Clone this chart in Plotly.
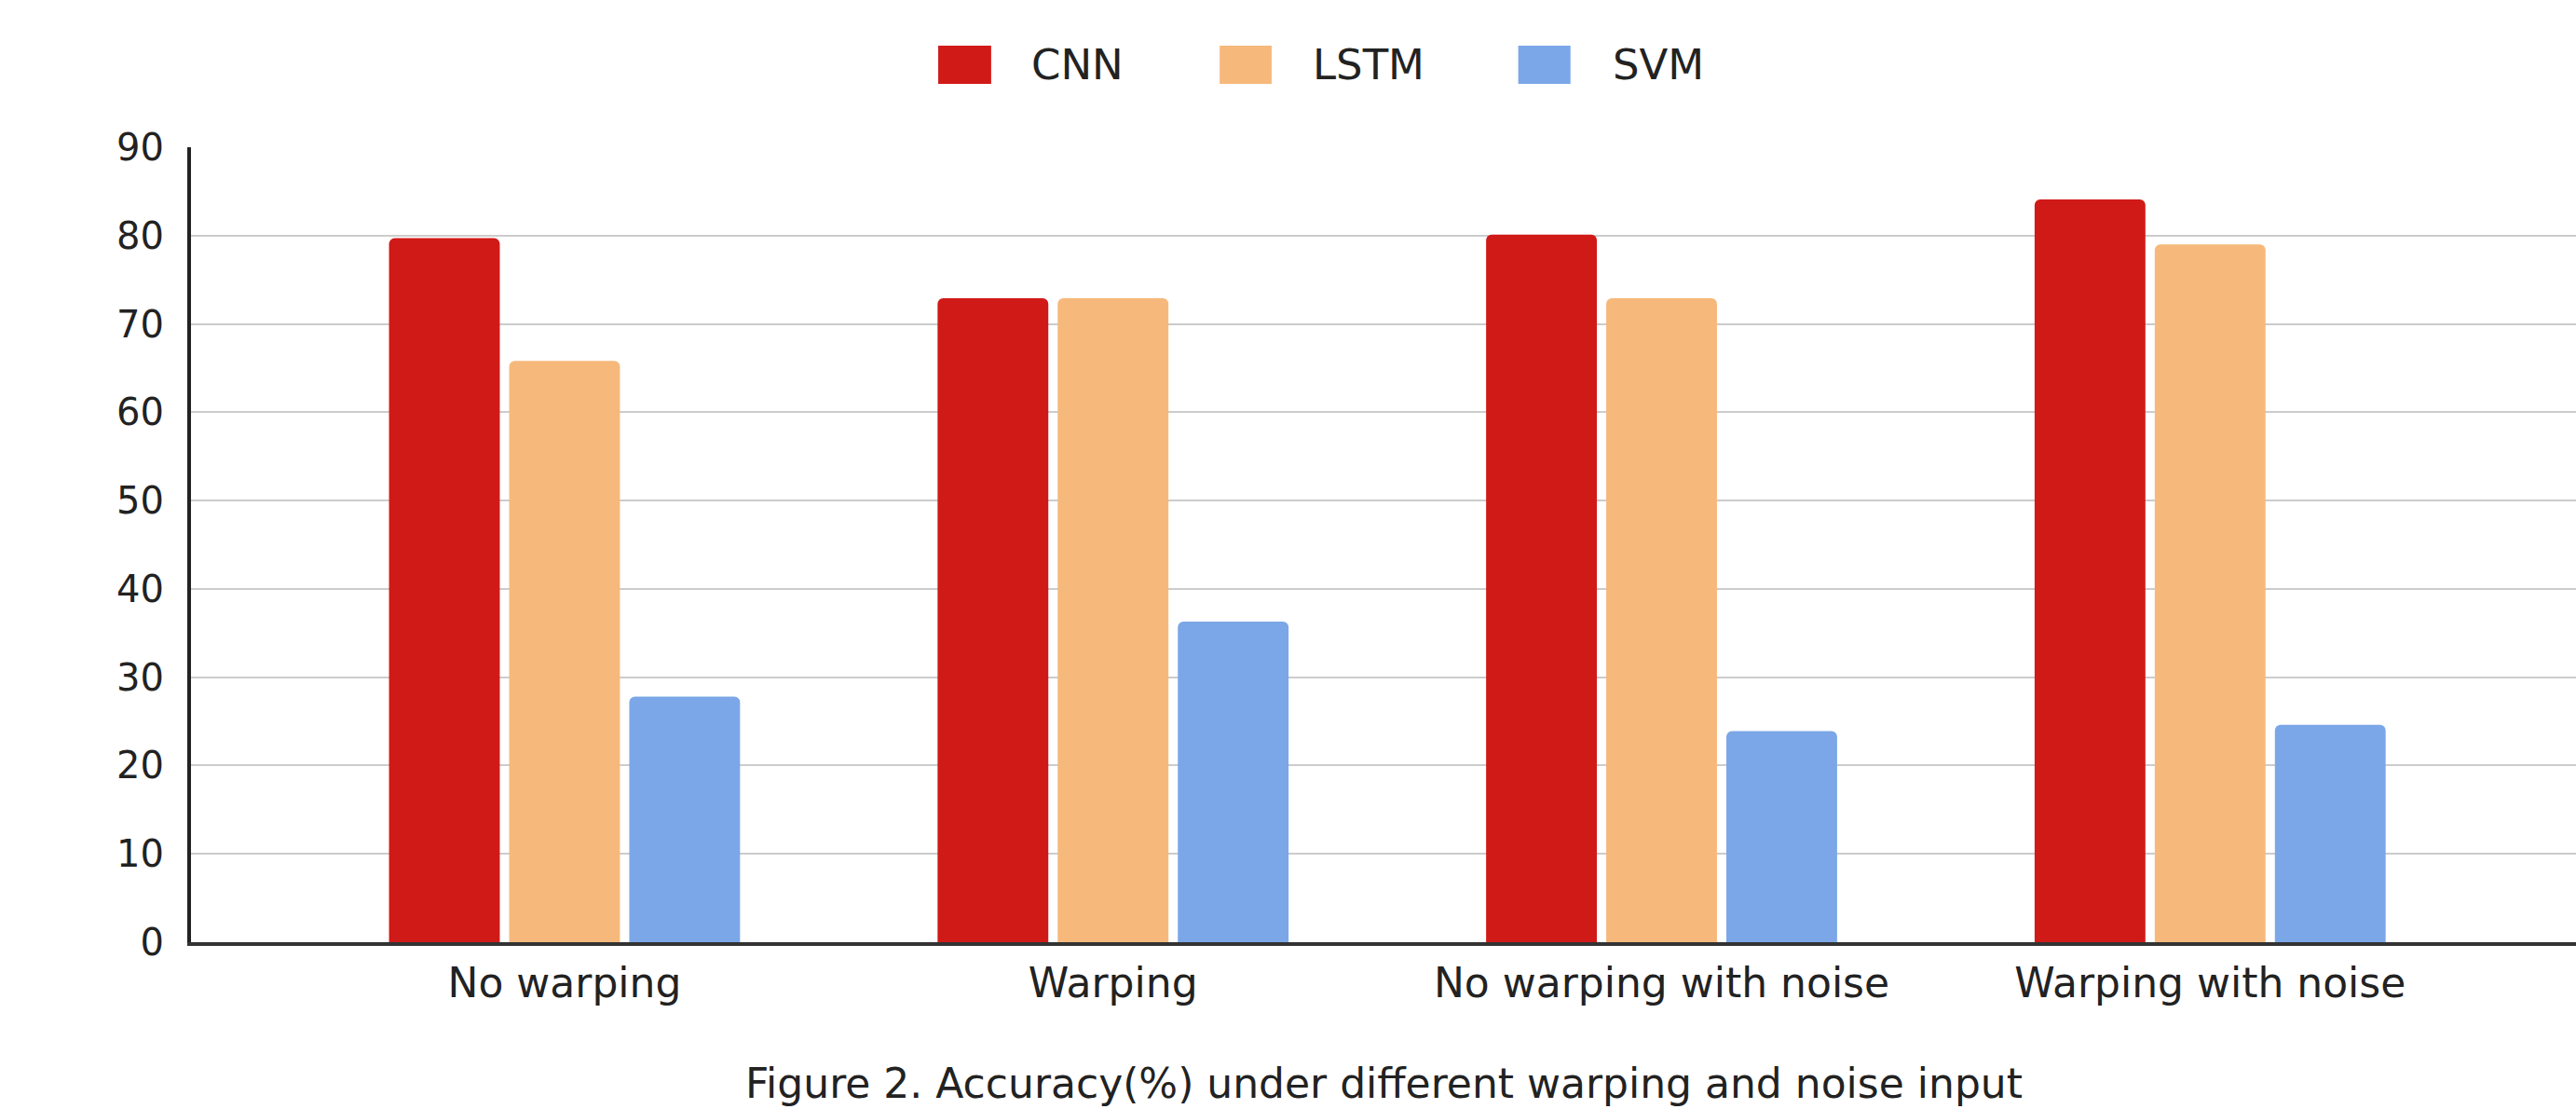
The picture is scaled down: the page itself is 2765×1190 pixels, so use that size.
import plotly.graph_objects as go

categories = ["No warping", "Warping", "No warping with noise", "Warping with noise"]
series_names = ["CNN", "LSTM", "SVM"]
cnn = [79.7, 72.9, 80.1, 84.1]
lstm = [65.8, 72.9, 72.9, 79.0]
svm = [27.8, 36.3, 23.9, 24.6]
y_ticks = [0, 10, 20, 30, 40, 50, 60, 70, 80, 90]
caption = "Figure 2. Accuracy(%) under different warping and noise input"

colors = ["#d01a18", "#f6b97b", "#7ba7e8"]
series = [cnn, lstm, svm]
FONT = "DejaVu Sans, Arial, sans-serif"

fig = go.Figure()
for name, vals, col in zip(series_names, series, colors):
    fig.add_trace(go.Bar(
        x=categories, y=vals, name=name,
        marker=dict(color=col, line=dict(width=0), cornerradius=6),
        showlegend=False,
    ))

# manual legend (swatches + labels)
legend_x = [(0.3133, 0.3355, 0.3516), (0.4313, 0.4531, 0.4695), (0.5565, 0.5784, 0.5953)]
shapes = []
annotations = []
for (x0, x1, xt), name, col in zip(legend_x, series_names, colors):
    shapes.append(dict(type="rect", xref="paper", yref="paper", x0=x0, x1=x1,
                       y0=1.0797, y1=1.1278, fillcolor=col, line=dict(width=0), layer="above"))
    annotations.append(dict(text=name, xref="paper", yref="paper", x=xt, y=1.1037,
                            xanchor="left", yanchor="middle", showarrow=False,
                            font=dict(family=FONT, size=45, color="#222222")))

annotations.append(dict(text=caption, xref="paper", yref="paper", x=0.5, y=-0.178,
                        xanchor="center", yanchor="middle", showarrow=False,
                        font=dict(family=FONT, size=44, color="#222222")))

fig.update_layout(
    width=2765, height=1190,
    margin=dict(l=205, r=0, t=158, b=179),
    paper_bgcolor="white", plot_bgcolor="white",
    barmode="group", bargap=0.343, bargroupgap=0.078,
    shapes=shapes, annotations=annotations,
    showlegend=False,
)
fig.update_xaxes(
    type="category", range=[-0.681, 3.667],
    showline=True, linecolor="#333333", linewidth=4,
    showgrid=False, ticks="", ticklabelstandoff=2,
    tickfont=dict(family=FONT, size=44, color="#222222"),
)
fig.update_yaxes(
    range=[0, 90], tickvals=y_ticks,
    showline=True, linecolor="#222222", linewidth=4,
    showgrid=True, gridcolor="#cccccc", gridwidth=2,
    zeroline=False, ticks="", ticklabelstandoff=17,
    tickfont=dict(family=FONT, size=40, color="#222222"),
)

fig.write_html(
    "out.html",
    config={"displayModeBar": False},
    post_script="document.body.style.margin='0';document.body.style.overflow='hidden';",
)
